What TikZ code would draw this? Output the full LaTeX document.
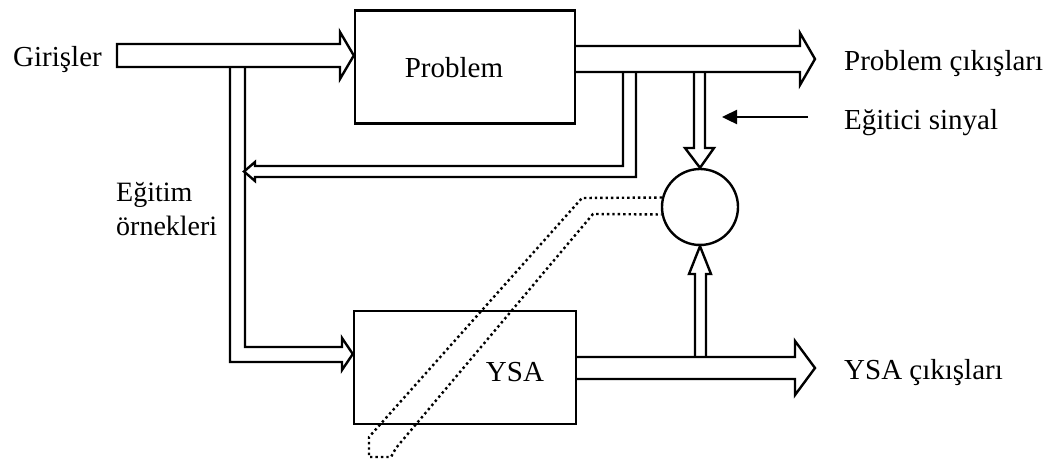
\documentclass[tikz,border=0pt]{standalone}
\usepackage{fontspec}
\setmainfont{Liberation Serif}
\usepackage{tikz}
\usetikzlibrary{calc,arrows.meta}

\begin{document}
\begin{tikzpicture}[x=1pt,y=-1pt,line width=2.4pt,line join=miter,
    blok/.style={draw,minimum width=#1,minimum height=113pt,inner sep=0pt},
    etiket/.style={font=\fontsize{29}{34}\selectfont,inner sep=0pt},
    noktali/.style={dash pattern=on 2.4pt off 3pt}]
    \useasboundingbox (0,0) rectangle (1047,464);
    % kutular
    \node[blok=220pt] (P) at (465,67) {};
    \node[blok=222pt] (Y) at (465,367.5) {};
    \node[draw,circle,minimum size=76pt,inner sep=0pt] (C) at (700,207) {};
    \node[etiket] (Pt) at (454,68) {Problem};
    \node[etiket] (Yt) at (515,372) {YSA};
    % girisler
    \draw (117,44) -- (340,44) -- (340,32) -- (P.west |- 0,55.5) -- (340,79) -- (340,67) -- (117,67) -- cycle;
    \draw (245,67) -- (245,347) -- (342,347) -- (342,338) -- (Y.west |- 0,354)
        -- (342,370) -- (342,362) -- (230,362) -- (230,67);
    % problem cikislari
    \draw (P.east |- 0,46) -- (800,46) -- (800,33) -- (815,59) -- (800,85) -- (800,72) -- (P.east |- 0,72);
    \draw (623,72) -- (623,166) -- (255,166) -- (255,162) -- (244,171.5) -- (255,181) -- (255,177) -- (636,177) -- (636,72);
    \draw (694,72) -- (694,148) -- (685,148) -- (C.north) -- (714,148) -- (705,148) -- (705,72);
    % ysa cikislari
    \draw (Y.east |- 0,357) -- (795,357) -- (795,341) -- (815,368) -- (795,395) -- (795,379) -- (Y.east |- 0,379);
    \draw (695,357) -- (695,274) -- (689,274) -- (C.south) -- (711,274) -- (706,274) -- (706,357);
    % egitici sinyal
    \coordinate (S) at (808,117);
    \draw[-{Triangle[length=15pt,width=14pt]}] (S) -- (722,117);
    % hata
    \draw[noktali] (C.166) -- (582,198) -- (369,437) -- (369,457) -- (391,457) -- (396,448) -- (593,214) -- (C.191);
    % yazilar
    \node[etiket,anchor=base west] (G) at (12,66) {Girişler};
    \node[etiket,anchor=base west] (Pc) at (843,70) {Problem çıkışları};
    \node[etiket,anchor=base west] (Es) at (843,129) {Eğitici sinyal};
    \node[etiket,anchor=base west] (Yc) at (843,379) {YSA çıkışları};
    \node[etiket,anchor=base west,font=\fontsize{28}{33}\selectfont] (E1) at (115,201) {Eğitim};
    \node[etiket,anchor=base west,font=\fontsize{28}{33}\selectfont] (E2) at (115,235) {örnekleri};
\end{tikzpicture}
\end{document}
